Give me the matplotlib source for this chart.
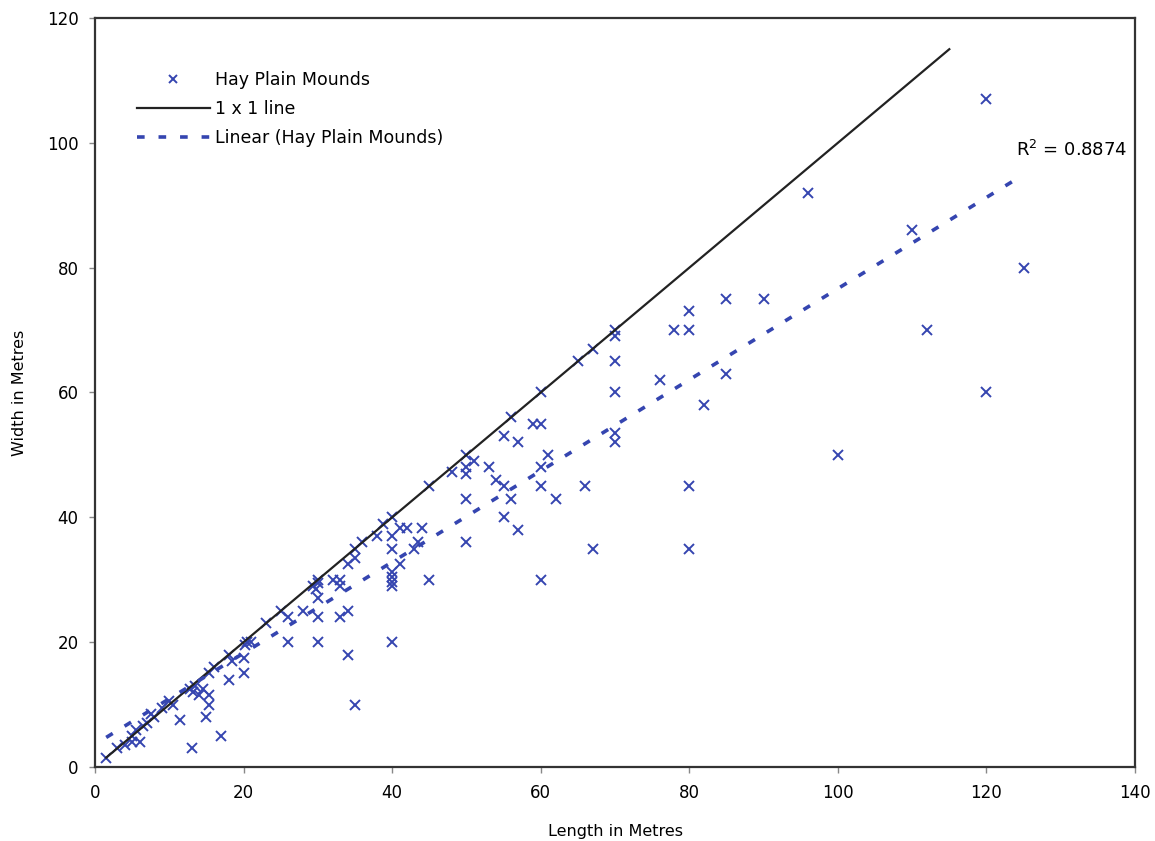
import matplotlib.pyplot as plt
import numpy as np

plt.rcParams['font.family'] = ['DejaVu Sans']
plt.rcParams['lines.scale_dashes'] = False

# mound lengths and widths (m)
length = [1.5, 3, 4, 5, 5, 5.5, 6, 6.5, 7, 7.5, 8, 9, 10, 10.5, 11.5,
          12.8, 13.2, 13.5, 14, 14.5, 15.3, 15.3, 13, 15, 15.3, 16, 17, 18,
          18, 18.5, 20, 20, 20.4, 20.2, 21, 23, 25, 26, 26, 28, 29.4, 29.8,
          30, 30, 30, 30, 30, 32, 33, 33, 33, 34, 34, 35, 34, 35, 35, 36,
          38, 38.8, 40, 40, 40, 41, 40, 40, 40, 40, 41, 42, 44, 43.5, 43,
          45, 45, 40, 48, 50, 51, 50, 50, 50, 50, 53, 54, 55, 55, 56, 56,
          55, 57, 57, 59, 60, 60, 60, 61, 60, 62, 60, 65, 67, 66, 67, 70,
          70, 70, 70, 70, 70, 76, 78, 80, 80, 85, 90, 85, 82, 80, 80, 96,
          110, 112, 120, 120, 125, 100]
width = [1.5, 3, 3.5, 4, 5, 6, 4, 6.5, 7, 8.5, 8, 9.5, 10.5, 10, 7.5,
         12.5, 12, 13, 11.5, 12.5, 11.5, 10, 3, 8, 15, 16, 5, 14,
         18, 17, 15, 17.5, 20, 19.5, 20, 23, 25, 24, 20, 25, 29, 28.5,
         30, 27, 24, 20, 29.5, 30, 30, 29, 24, 25, 18, 10, 32.5, 33.5, 35, 36,
         37, 39, 40, 37, 35, 32.5, 31.3, 30.5, 29.7, 29, 38.3, 38.3, 38.3, 36, 35,
         30, 45, 20, 47.3, 50, 49, 48, 47, 43, 36, 48, 46, 45, 53, 56, 43,
         40, 52, 38, 55, 55, 60, 48, 50, 45, 43, 30, 65, 67, 45, 35, 70,
         69, 65, 60, 53.5, 52, 62, 70, 70, 73, 75, 75, 63, 58, 45, 35, 92,
         86, 70, 107, 60, 80, 50]

x = np.array(length)
y = np.array(width)
slope, intercept = np.polyfit(x, y, 1)

blue = '#3545b0'

fig = plt.figure(figsize=(11.55, 8.41), dpi=100)
ax = fig.add_axes([0.0823, 0.088, 0.9004, 0.8906])

ax.plot(x, y, linestyle='none', marker='x', ms=7, mew=1.4, color=blue,
        label='Hay Plain Mounds')
ax.plot([1.5, 115], [1.5, 115], color='#222222', lw=1.6, label='1 x 1 line')
xt = np.array([x.min(), x.max()])
ax.plot(xt, slope * xt + intercept, color=blue, lw=2.6,
        linestyle=(0, (5.5, 10)), label='Linear (Hay Plain Mounds)')

ax.text(139, 98.8, 'R$^2$ = 0.8874', ha='right', va='center', fontsize=13)

ax.set_xlim(0, 140)
ax.set_ylim(0, 120)
ax.set_xticks(range(0, 141, 20))
ax.set_yticks(range(0, 121, 20))
ax.tick_params(direction='out', length=4, width=1, color='#888888',
               labelsize=12, pad=8)
for s in ax.spines.values():
    s.set_linewidth(1.6)
    s.set_color('#333333')

ax.set_xlabel('Length in Metres', fontsize=11.5, labelpad=16)
ax.set_ylabel('Width in Metres', fontsize=11.5, labelpad=14)

leg = ax.legend(loc='upper left', bbox_to_anchor=(0.025, 0.95), frameon=False,
                fontsize=12.5, handlelength=4.2, handletextpad=0.3,
                labelspacing=0.62, markerscale=0.8)

fig.savefig('out.png', dpi=100, facecolor='white')
